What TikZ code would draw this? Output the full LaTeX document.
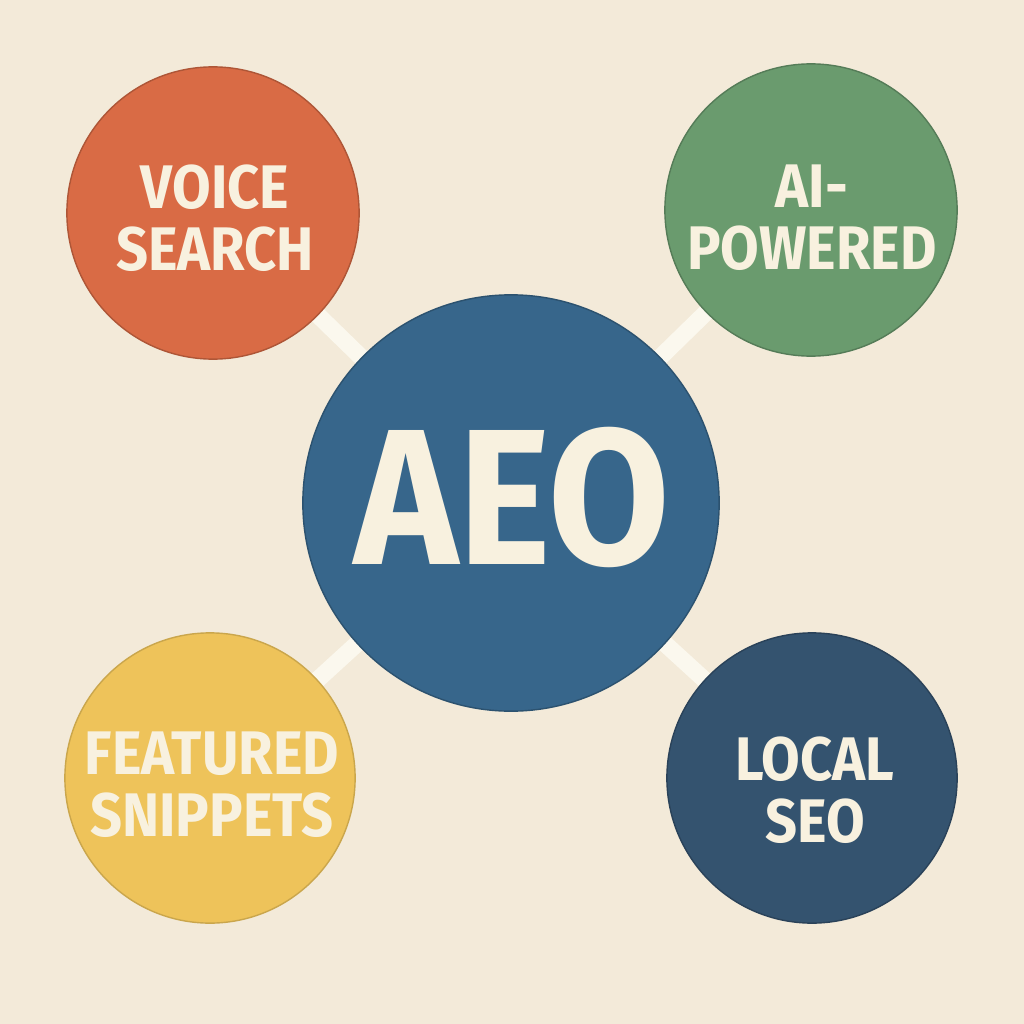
\documentclass[tikz,border=0pt]{standalone}
\usepackage{fontspec}
\setmainfont{Fira Sans}
\newfontfamily\labelfont[FakeStretch=0.91]{Fira Sans}
\definecolor{bg}{HTML}{F3EAD9}
\definecolor{link}{HTML}{FBF8EE}
\definecolor{txt}{HTML}{F8F1DF}
\definecolor{corange}{HTML}{D96B45}
\definecolor{cgreen}{HTML}{6A9B6E}
\definecolor{cyellow}{HTML}{EEC35A}
\definecolor{cblue}{HTML}{37668B}
\definecolor{cdark}{HTML}{34536F}
\begin{document}
\begin{tikzpicture}[x=0.01cm,y=-0.01cm,
  bubble/.style={circle,inner sep=0pt,minimum size=#1*0.02cm,align=center,text=txt,font=\labelfont\bfseries\fontsize{17.5}{17.6}\selectfont},
  conn/.style={draw=link,line width=4.8pt}]
\fill[bg] (0,0) rectangle (1024,1024);
\useasboundingbox (0,0) rectangle (1024,1024);
\coordinate (cc) at (511,503);
\coordinate (tl) at (213,213);
\coordinate (tr) at (811,210);
\coordinate (bl) at (210,778);
\coordinate (br) at (812,778);
\draw[conn] (cc) -- (tl);
\draw[conn] (cc) -- (tr);
\draw[conn] (cc) -- (bl);
\draw[conn] (cc) -- (br);
\node[bubble=146,fill=corange,draw=corange!80!black,line width=0.4pt] (vs) at (tl) {};
\node[bubble=146,fill=cgreen,draw=cgreen!80!black,line width=0.4pt] (ai) at (tr) {};
\node[bubble=145,fill=cyellow,draw=cyellow!85!black,line width=0.4pt] (fs) at (bl) {};
\node[bubble=145,fill=cdark,draw=cdark!80!black,line width=0.4pt] (ls) at (br) {};
\node[bubble=208,fill=cblue,draw=cblue!80!black,line width=0.4pt] (aeo) at (cc) {};
\node[bubble=10] (vst) at (215,218) {VOICE\\SEARCH};
\node[bubble=10] (ait) at (812,218) {AI-\\POWERED};
\node[bubble=10] (fst) at (212,785) {FEATURED\\SNIPPETS};
\node[bubble=10] (lst) at (815,790) {LOCAL\\SEO};
\node[bubble=10,font=\labelfont\bfseries\fontsize{55}{60}\selectfont] (aeot) at (512,497) {AEO};
\end{tikzpicture}
\end{document}
